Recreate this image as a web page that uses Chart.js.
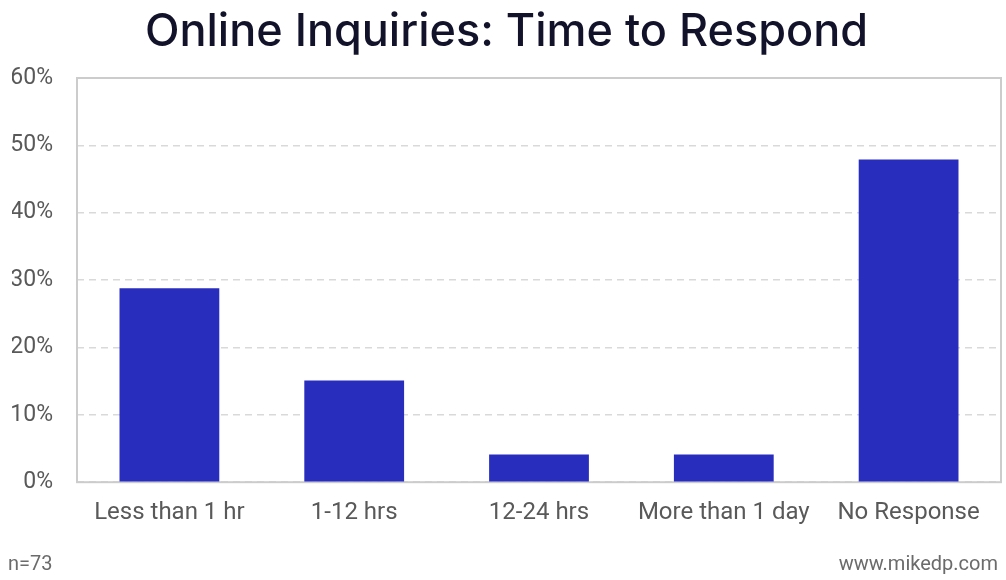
<!DOCTYPE html>
<html>
<head>
<meta charset="utf-8">
<script src="https://cdn.jsdelivr.net/npm/chart.js@4"></script>
<style>
  body { margin: 0; background: #fff; }
  #wrap { position: relative; width: 1006px; height: 580px; }
  .foot { position: absolute; font-family: Roboto, sans-serif; font-size: 20px; line-height: 24px; color: #6b6b6b; }
  #n { left: 8px; top: 551px; }
  #site { right: 8px; top: 551px; }
</style>
</head>
<body>
<div id="wrap">
  <canvas id="respondChart" width="1006" height="580"></canvas>
  <div class="foot" id="n">n=73</div>
  <div class="foot" id="site">www.mikedp.com</div>
</div>
<script>
// DATA
const categories = ["Less than 1 hr", "1-12 hrs", "12-24 hrs", "More than 1 day", "No Response"];
const responseShare = [28.8, 15.1, 4.1, 4.1, 47.9];
const yTicks = [0, 10, 20, 30, 40, 50, 60];

const BAR_COLOR = '#292dbe';
const LINE_COLOR = '#cccccc';

// SOLID FRAME AROUND THE PLOT AREA
const framePlugin = {
  id: 'frame',
  beforeDatasetsDraw(chart) {
    const { ctx, chartArea: a } = chart;
    ctx.save();
    ctx.strokeStyle = LINE_COLOR;
    ctx.lineWidth = 2;
    ctx.strokeRect(a.left, a.top, a.right - a.left, a.bottom - a.top);
    ctx.restore();
  }
};

new Chart(document.getElementById('respondChart'), {
  type: 'bar',
  data: {
    labels: categories,
    datasets: [{
      data: responseShare,
      backgroundColor: BAR_COLOR,
      barPercentage: 0.54,
      categoryPercentage: 1
    }]
  },
  options: {
    responsive: false,
    animation: false,
    layout: { padding: { left: 12, right: 5, top: 0, bottom: 37 } },
    plugins: {
      legend: { display: false },
      tooltip: { enabled: false },
      title: {
        display: true,
        text: 'Online Inquiries: Time to Respond',
        color: '#12132b',
        font: { family: 'Inter', size: 45, weight: '500' },
        padding: { top: 5, bottom: 19 }
      }
    },
    scales: {
      x: {
        grid: { display: false, drawTicks: false },
        border: { display: false },
        afterFit: (axis) => { axis.paddingLeft = 0; axis.paddingRight = 0; },
        ticks: {
          color: '#595959',
          font: { family: 'Roboto', size: 24 },
          padding: 16,
          maxRotation: 0
        }
      },
      y: {
        min: 0,
        max: 60,
        afterBuildTicks: (axis) => { axis.ticks = yTicks.map(v => ({ value: v })); },
        afterFit: (axis) => { axis.width = 65; },
        grid: { color: '#d9d9d9', lineWidth: 1.5, drawTicks: false },
        border: { display: false, dash: [7, 5] },
        ticks: {
          color: '#595959',
          font: { family: 'Roboto', size: 23 },
          padding: 24,
          callback: (value) => `${value}%`
        }
      }
    }
  },
  plugins: [framePlugin]
});
</script>
</body>
</html>
